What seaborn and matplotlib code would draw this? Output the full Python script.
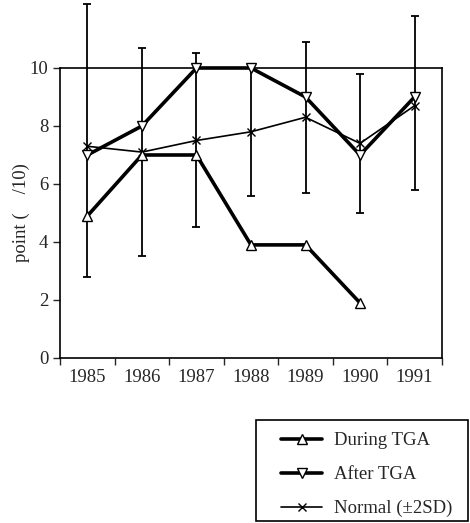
import numpy as np
import pandas as pd
import matplotlib
matplotlib.use("Agg")
import matplotlib.pyplot as plt
import seaborn as sns
from matplotlib.patches import Rectangle

years = [1985, 1986, 1987, 1988, 1989, 1990, 1991]
during_years = [1985, 1986, 1987, 1988, 1989, 1990]
during_tga = [4.9, 7.0, 7.0, 3.9, 3.9, 1.9]
after_tga = [7.0, 8.0, 10.0, 10.0, 9.0, 7.0, 9.0]
normal = [7.3, 7.1, 7.5, 7.8, 8.3, 7.4, 8.7]
normal_hi = [12.2, 10.7, 10.5, 10.0, 10.9, 9.8, 11.8]
normal_lo = [2.8, 3.5, 4.5, 5.6, 5.7, 5.0, 5.8]

sns.set_style("ticks")
plt.rcParams['font.family'] = ['Liberation Serif', 'DejaVu Serif']
plt.rcParams['font.size'] = 13.5

fig = plt.figure(figsize=(4.7, 5.23), dpi=100)
ax = fig.add_axes([0.128, 0.3155, 0.812, 0.5545])

# normal range with +-2SD bars
lo_err = np.array(normal) - np.array(normal_lo)
hi_err = np.array(normal_hi) - np.array(normal)
ax.errorbar(years, normal, yerr=[lo_err, hi_err], fmt="none", ecolor="black",
            elinewidth=1.3, capsize=3, capthick=1.3, clip_on=False, zorder=2)

sns.lineplot(x=years, y=normal, ax=ax, color="black", lw=1.2, marker="x",
             markersize=6, markeredgecolor="black", markeredgewidth=1,
             label="Normal (±2SD)", zorder=3)
sns.lineplot(x=during_years, y=during_tga, ax=ax, color="black", lw=2.6, marker="^",
             markersize=7, markerfacecolor="white", markeredgecolor="black",
             markeredgewidth=1, label="During TGA", zorder=4)
sns.lineplot(x=years, y=after_tga, ax=ax, color="black", lw=2.6, marker="v",
             markersize=7, markerfacecolor="white", markeredgecolor="black",
             markeredgewidth=1, label="After TGA", zorder=5)
for ln in ax.lines:
    ln.set_clip_on(False)

ax.set_xlim(1984.5, 1991.5)
ax.set_ylim(0, 10)
ax.set_xticks(np.arange(1984.5, 1992, 1))
ax.set_xticklabels([])
ax.set_xticks(years, minor=True)
ax.set_xticklabels([str(y) for y in years], minor=True)
ax.tick_params(axis="x", which="major", length=5, width=1, direction="out")
ax.tick_params(axis="x", which="minor", length=0, pad=8)
ax.set_yticks([0, 2, 4, 6, 8, 10])
ax.tick_params(axis="y", length=5, width=1, direction="out")
for s in ax.spines.values():
    s.set_visible(True)
    s.set_linewidth(1.2)
    s.set_color("black")
ax.set_xlabel("")
ax.set_ylabel("point (    /10)", labelpad=0)

handles, labels = ax.get_legend_handles_labels()
order = [labels.index("During TGA"), labels.index("After TGA"), labels.index("Normal (±2SD)")]
ax.get_legend().remove()

# legend box drawn separately, entries placed inside it
fig.patches.append(Rectangle((256 / 470, 2 / 523), 212 / 470, 101 / 523,
                             transform=fig.transFigure, fill=False,
                             edgecolor="black", linewidth=1.2))
leg = fig.legend([handles[i] for i in order], [labels[i] for i in order],
                 loc="upper left", bbox_to_anchor=(281 / 470, 1 - 432 / 523),
                 frameon=False, handlelength=2.2, handletextpad=0.65,
                 borderpad=0, labelspacing=0.9, borderaxespad=0, fontsize=13.5)

fig.savefig("out.png", dpi=100)
